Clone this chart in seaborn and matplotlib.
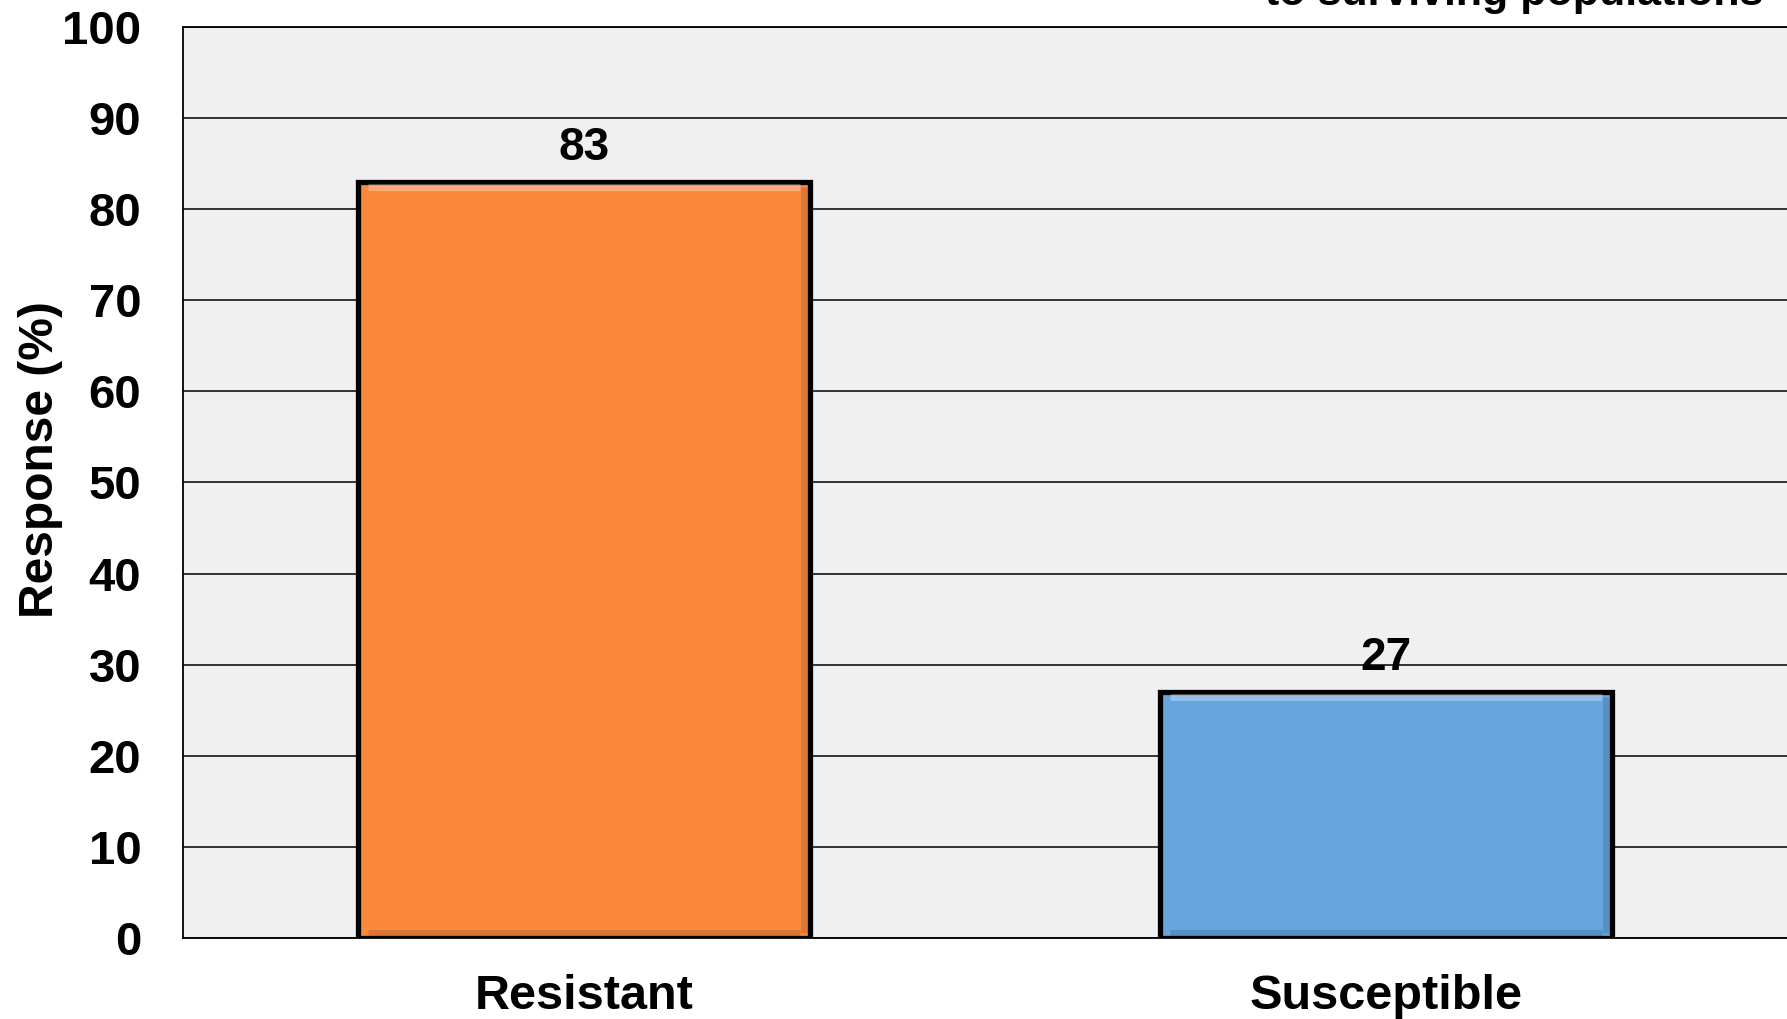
import matplotlib
matplotlib.use("Agg")
import matplotlib.pyplot as plt
import seaborn as sns
import pandas as pd

# Data
categories = ["Resistant", "Susceptible"]
response_pct = [83, 27]
bar_colors = ["#FB883B", "#66A5E0"]
y_ticks = [0, 10, 20, 30, 40, 50, 60, 70, 80, 90, 100]
corner_note = "to surviving populations"

sns.set_theme(style="white")
plt.rcParams["font.family"] = ["Liberation Sans", "DejaVu Sans"]
plt.rcParams["font.weight"] = "bold"
plt.rcParams["text.color"] = "black"
plt.rcParams["axes.labelcolor"] = "black"
plt.rcParams["xtick.color"] = "black"
plt.rcParams["ytick.color"] = "black"

df = pd.DataFrame({"group": categories, "response": response_pct})

fig = plt.figure(figsize=(17.87, 10.19), dpi=100)
ax = fig.add_axes([0.1024, 0.0795, 0.8976, 0.894])
ax.set_facecolor("#F0F0F0")

sns.barplot(
    data=df, x="group", y="response", hue="group",
    palette=dict(zip(categories, bar_colors)), order=categories,
    width=0.563, edgecolor="black", linewidth=3.8, saturation=1,
    legend=False, ax=ax, zorder=3,
)

# Soft bevel: light strip along the top, darker strip along the bottom and right
for patch in ax.patches:
    x0, w, h = patch.get_x(), patch.get_width(), patch.get_height()
    ax.plot([x0 + 0.012, x0 + w - 0.012], [h - 0.6, h - 0.6],
            color="white", alpha=0.3, lw=5, zorder=4, solid_capstyle="butt")
    ax.plot([x0 + 0.012, x0 + w - 0.012], [0.6, 0.6],
            color="black", alpha=0.12, lw=5, zorder=4, solid_capstyle="butt")
    ax.plot([x0 + w - 0.007, x0 + w - 0.007], [0.6, h - 0.6],
            color="black", alpha=0.12, lw=5, zorder=4, solid_capstyle="butt")

ax.set_ylim(0, 100)
ax.set_xlim(-0.5, 1.5)
ax.set_yticks(y_ticks)
ax.yaxis.grid(True, color="black", linewidth=1.1)
ax.set_axisbelow(True)

for spine in ["left", "top", "bottom"]:
    ax.spines[spine].set_color("black")
    ax.spines[spine].set_linewidth(1.3)
ax.spines["right"].set_visible(False)

ax.tick_params(axis="y", length=0, pad=30, labelsize=34, labelcolor="black")
ax.tick_params(axis="x", length=0, pad=26, labelsize=35, labelcolor="black")
for lbl in ax.get_xticklabels() + ax.get_yticklabels():
    lbl.set_fontweight("bold")

ax.set_xlabel("")
ax.set_ylabel("Response (%)", fontsize=34.5, fontweight="bold", color="black")
ax.yaxis.label.set_va("center")
ax.yaxis.set_label_coords(-0.089, 0.525)

# Value labels above bars
for i, v in enumerate(response_pct):
    ax.text(i, v + 1.3, f"{v}", ha="center", va="bottom",
            fontsize=33, fontweight="bold", color="black", zorder=5)

fig.text(0.987, 1 - 5 / 1019, corner_note, ha="right", va="baseline",
         fontsize=31, fontweight="bold", color="black")

fig.savefig("out.png", dpi=100, facecolor="white")
